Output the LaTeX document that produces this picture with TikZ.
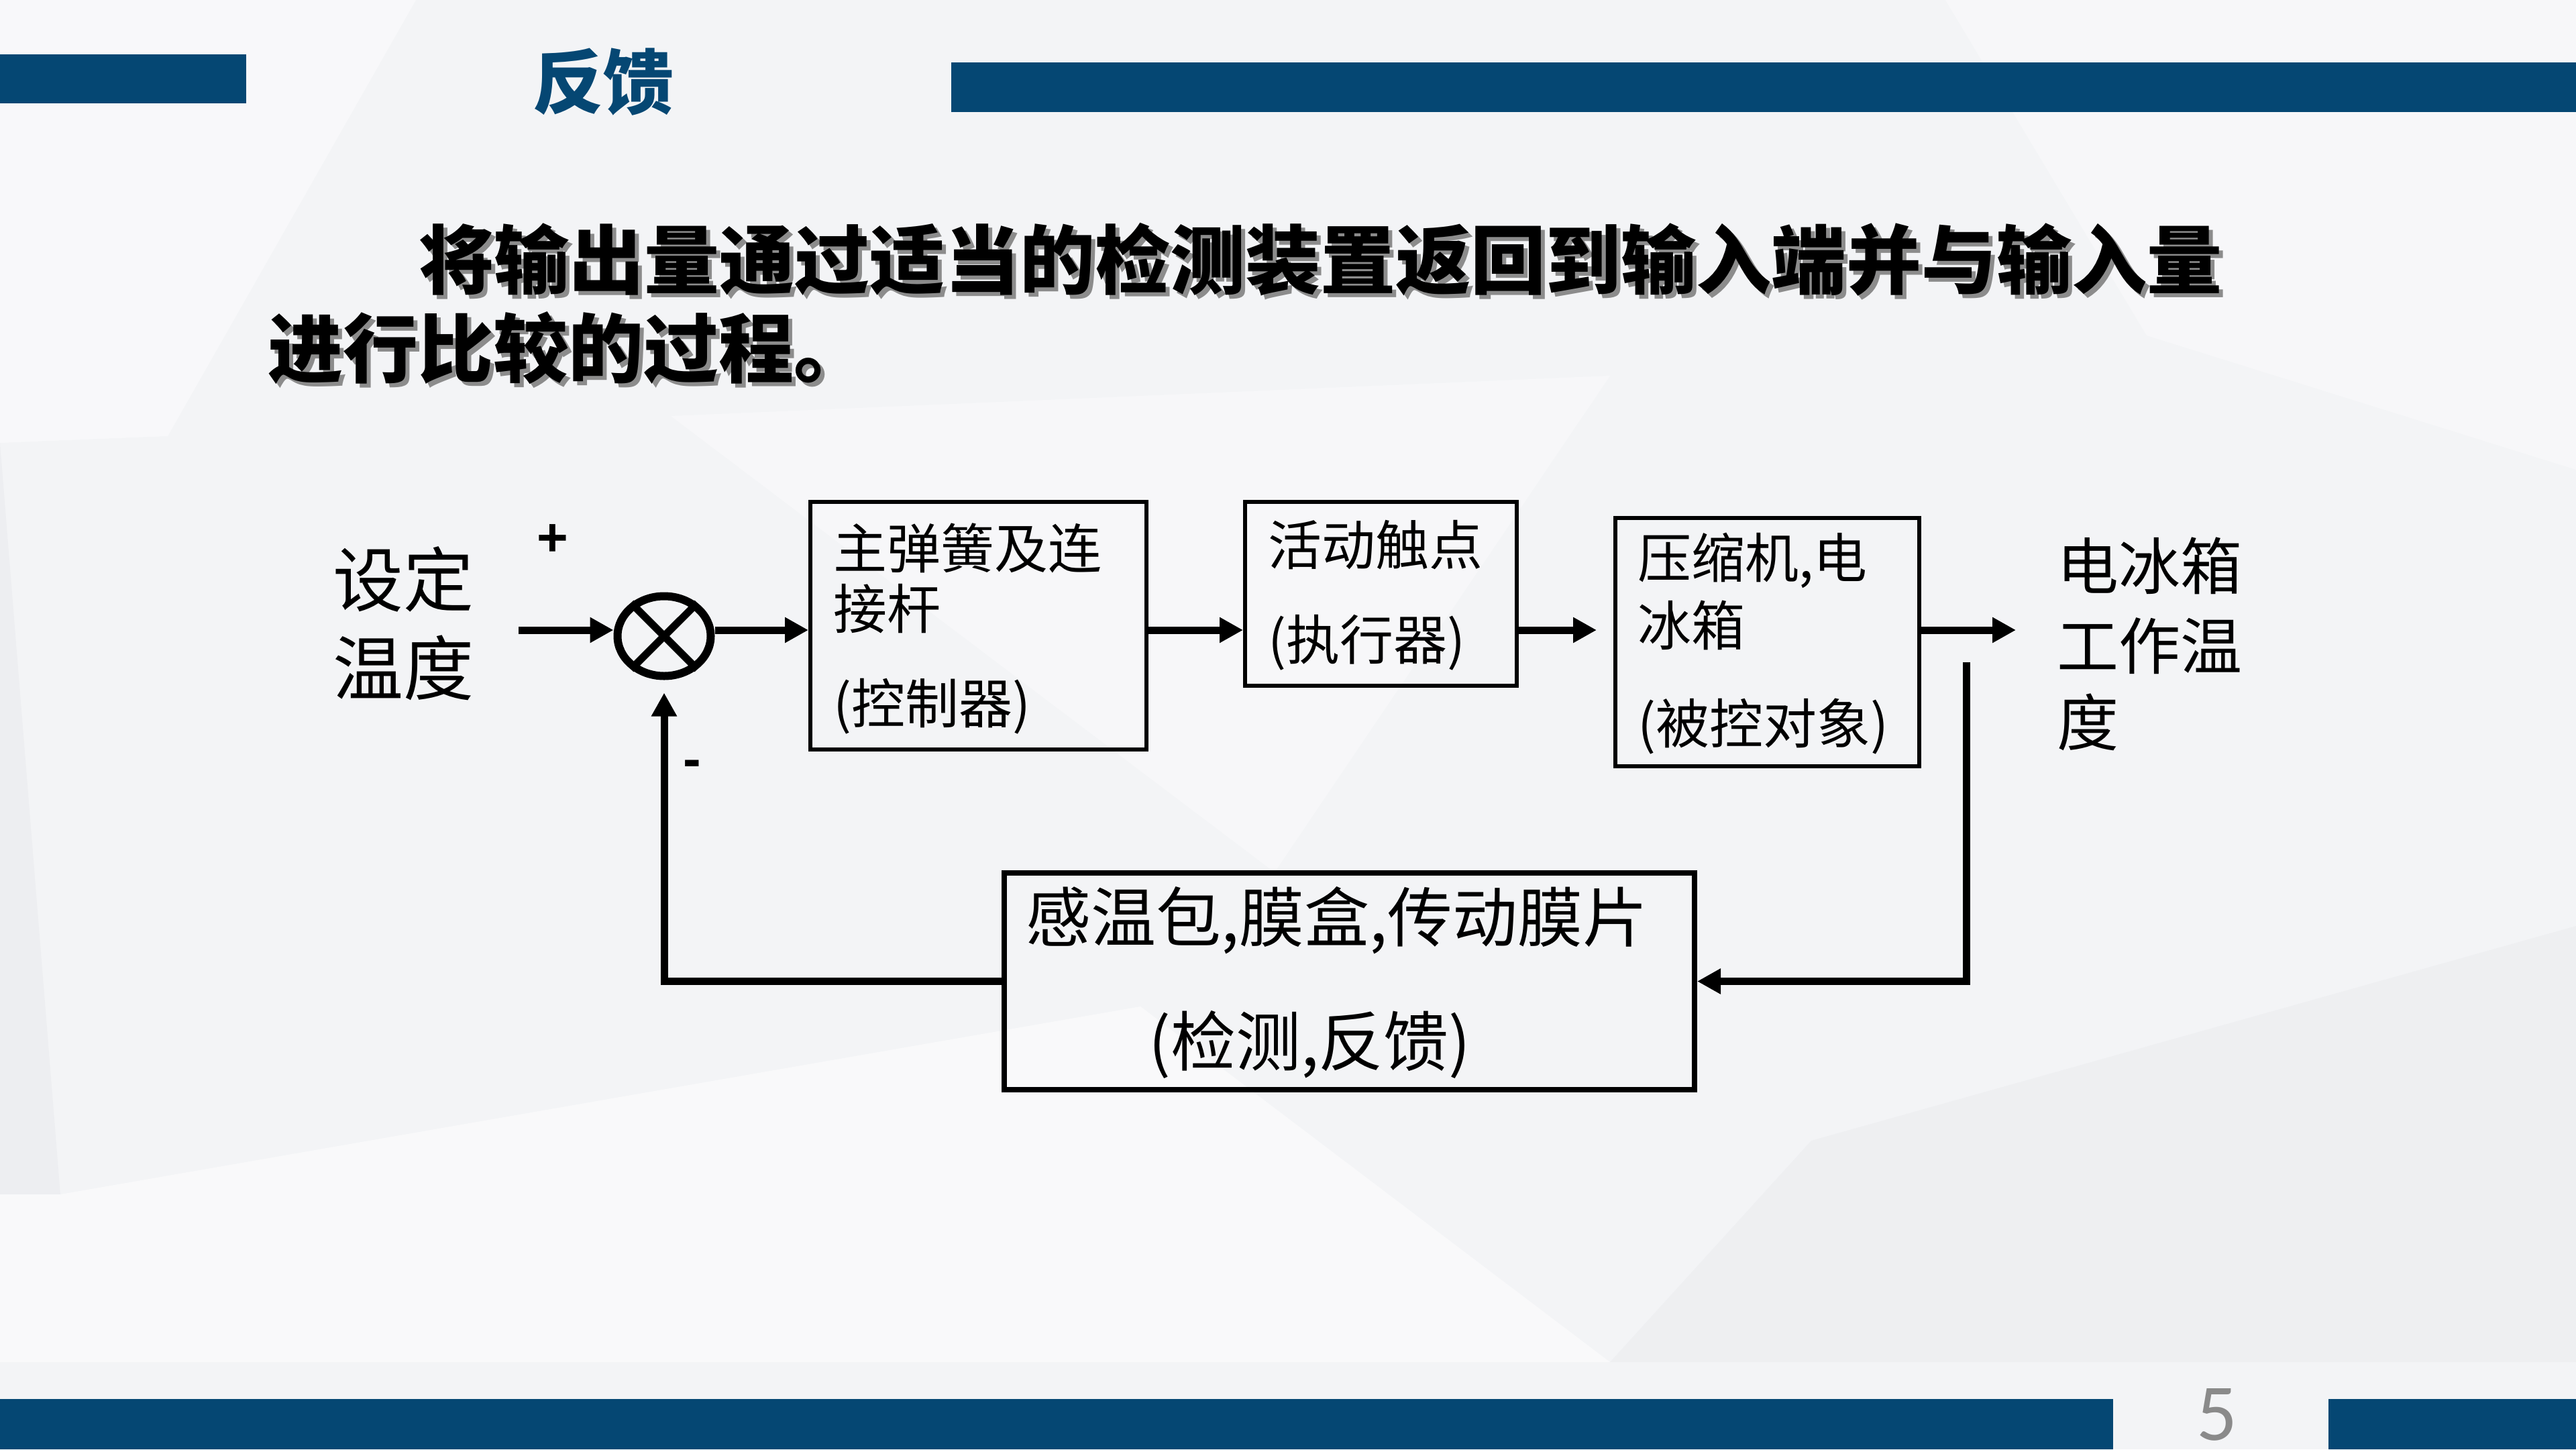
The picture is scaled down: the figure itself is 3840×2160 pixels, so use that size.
\documentclass[tikz,border=0pt]{standalone}
\usepackage{fontspec}
\newfontfamily\cjk{Noto Sans CJK SC}
\newfontfamily\numfont{Carlito}
\newfontfamily\symfont{Liberation Sans}
\usetikzlibrary{arrows.meta,shapes.geometric}
\definecolor{barblue}{RGB}{5,71,115}
\definecolor{bgbase}{RGB}{243,244,246}
\definecolor{bgdark}{RGB}{234,235,238}
\definecolor{pagegrey}{RGB}{138,138,138}
\tikzset{
  bar/.style={fill=barblue, draw=none},
  blk/.style={draw=black, line width=6pt, inner sep=0pt, fill=none},
  fbblk/.style={draw=black, line width=8pt, inner sep=0pt, fill=none},
  arr/.style={line width=11pt, draw=black, -{Triangle[length=35pt,width=36pt]}},
  lab/.style={font=\cjk\fontsize{80pt}{80pt}\selectfont, inner sep=0pt, anchor=west},
  biglab/.style={font=\cjk\fontsize{97pt}{97pt}\selectfont, inner sep=0pt, anchor=west},
  sidelab/.style={font=\cjk\fontsize{105pt}{105pt}\selectfont, inner sep=0pt, anchor=west},
  rightlab/.style={font=\cjk\fontsize{92pt}{92pt}\selectfont, inner sep=0pt, anchor=west},
  maintxt/.style={font=\cjk\bfseries\fontsize{112pt}{112pt}\selectfont, inner sep=0pt, anchor=west},
  signlab/.style={font=\symfont\bfseries\fontsize{80pt}{80pt}\selectfont, inner sep=0pt},
}
\begin{document}
\begin{tikzpicture}[x=1pt,y=-1pt]
\useasboundingbox (0,0) rectangle (3840,2160);
% background
\fill[bgbase] (0,0) rectangle (3840,2160);
\fill[white,opacity=0.45] (0,0) -- (620,0) -- (250,650) -- (0,660) -- cycle;
\fill[white,opacity=0.35] (1000,620) -- (2400,560) -- (1900,1300) -- cycle;
\fill[bgdark,opacity=0.6] (0,660) -- (90,1780) -- (0,1780) -- cycle;
\fill[white,opacity=0.5] (90,1780) -- (1700,1500) -- (2400,2030) -- (0,2030) -- (0,1780) -- cycle;
\fill[bgdark,opacity=0.5] (2700,1700) -- (3840,1380) -- (3840,2030) -- (2400,2030) -- cycle;
\fill[white,opacity=0.35] (2900,0) -- (3840,0) -- (3840,700) -- (3200,500) -- cycle;
% bars
\fill[bar] (0,81) rectangle (367,154);
\fill[bar] (1418,93) rectangle (3840,167);
\fill[bar] (0,2085) rectangle (3150,2160);
\fill[bar] (3471,2085) rectangle (3840,2160);
% title
\node[font=\cjk\bfseries\fontsize{105pt}{105pt}\selectfont, text=barblue, inner sep=0pt] (title) at (899,122) {反馈};
% page number
\node[font=\numfont\fontsize{120pt}{120pt}\selectfont, text=pagegrey, inner sep=0pt, anchor=base] (page) at (3305,2146) {5};
% main text with shadow
\node[maintxt, text=black!45] (l1s) at (630,393) {将输出量通过适当的检测装置返回到输入端并与输入量};
\node[maintxt] (l1) at (624,387) {将输出量通过适当的检测装置返回到输入端并与输入量};
\node[maintxt, text=black!45] (l2s) at (405,525) {进行比较的过程。};
\node[maintxt] (l2) at (399,519) {进行比较的过程。};
% blocks
\node[blk, minimum width=501pt, minimum height=369pt] (b1) at (1458.5,932.5) {};
\node[blk, minimum width=405pt, minimum height=274pt] (b2) at (2058.5,885) {};
\node[blk, minimum width=453pt, minimum height=370pt] (b3) at (2634.5,957) {};
\node[fbblk, minimum width=1029pt, minimum height=323pt] (b4) at (2011.5,1462.5) {};
% summing junction
\node[draw=black, line width=12pt, ellipse, minimum width=139pt, minimum height=119pt, inner sep=0pt] (s) at (990,948) {};
\draw[line width=11pt] (s.45) -- (s.225);
\draw[line width=11pt] (s.135) -- (s.-45);
% block texts
\node[lab] (t1a) at (1242,817) {主弹簧及连};
\node[lab] (t1b) at (1242,907) {接杆};
\node[lab] (t1c) at (1242,1053) {(控制器)};
\node[lab] (t2a) at (1890,812) {活动触点};
\node[lab] (t2b) at (1890,958) {(执行器)};
\node[lab] (t3a) at (2441,835) {压缩机,电};
\node[lab] (t3b) at (2441,932) {冰箱};
\node[lab] (t3c) at (2441,1083) {(被控对象)};
\node[biglab] (t4a) at (1529,1372) {感温包,膜盒,传动膜片};
\node[biglab] (t4b) at (1712,1557) {(检测,反馈)};
% side labels
\node[sidelab] (inA) at (496,863) {设定};
\node[sidelab] (inB) at (496,995) {温度};
\node[rightlab] (outA) at (3066,843) {电冰箱};
\node[rightlab] (outB) at (3066,963) {工作温};
\node[rightlab] (outC) at (3066,1076) {度};
\node[signlab] (plus) at (824,805) {+};
\node[signlab] (minus) at (1032,1146) {-};
% connectors
\coordinate (in) at (773,939);
\coordinate (out) at (3005,939);
\coordinate (fb) at (2931,987);
\draw[arr] (in) -- (in -| s.west);
\draw[arr] (s.east |- in) -- (b1.west |- in);
\draw[arr] (b1.east |- in) -- (b2.west |- in);
\draw[arr, shorten >=25pt] (b2.east |- in) -- (b3.west |- in);
\draw[arr] (b3.east |- in) -- (out);
\draw[arr] (fb) |- (b4.east);
\draw[arr, shorten >=19pt] (b4.west) -| (s.south);
\end{tikzpicture}
\end{document}
